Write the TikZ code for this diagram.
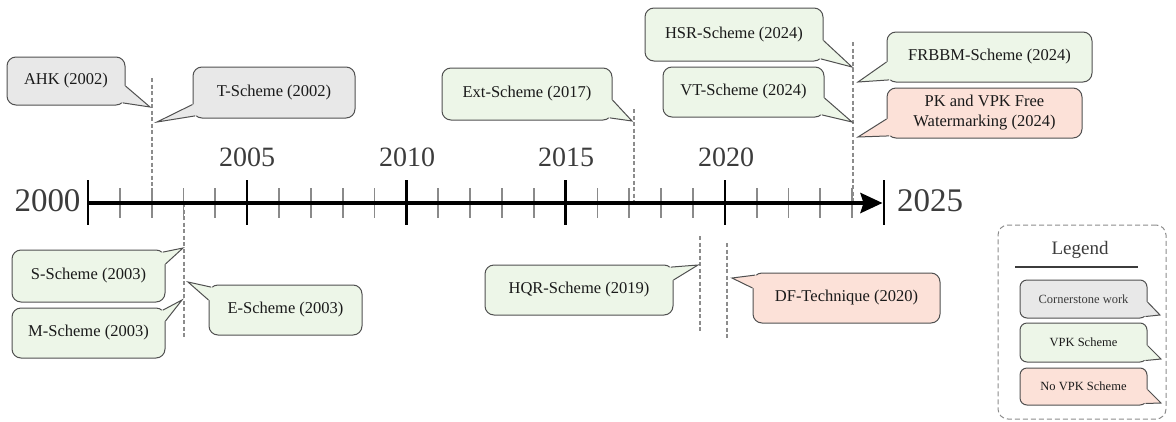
\documentclass[tikz,border=0pt]{standalone}
\usepackage{fontspec}
\setmainfont{Liberation Serif}
\usetikzlibrary{calc,arrows.meta}
\definecolor{boxc}{HTML}{505050}
\definecolor{grayfill}{HTML}{E8E8E8}
\definecolor{greenfill}{HTML}{EDF6E8}
\definecolor{pinkfill}{HTML}{FCE1D8}
\definecolor{txtc}{HTML}{1A1A1A}
\definecolor{yrc}{HTML}{3C3C3C}
\definecolor{dashc}{HTML}{8C8C8C}
\definecolor{tickc}{HTML}{8A8A8A}
\newcommand{\callfont}{\fontsize{16.5}{20}\selectfont}
\newcommand{\legfont}{\fontsize{12.5}{15}\selectfont}
\newcommand{\tailc}[5]{%
  \coordinate (#1-a) at #3;
  \coordinate (#1-b) at #5;
  \fill[#2] ($(#1-a)!2pt!(#1.center)$) -- (#1-a) -- (#4) -- (#1-b) -- ($(#1-b)!2pt!(#1.center)$) -- cycle;
  \draw[tailline] (#1-a) -- (#4) -- (#1-b);
}
\begin{document}
\begin{tikzpicture}[x=1pt,y=-1pt,
  callbox/.style={draw=boxc, line width=1pt, rounded corners=9pt, inner sep=0pt, align=center, font=\callfont, text=txtc},
  graybox/.style={callbox, fill=grayfill},
  greenbox/.style={callbox, fill=greenfill},
  pinkbox/.style={callbox, fill=pinkfill},
  legbox/.style={callbox, rounded corners=7pt, font=\legfont},
  tailline/.style={draw=boxc, line width=1pt, line join=miter},
  evline/.style={draw=dashc, line width=1.2pt, dash pattern=on 4pt off 2.5pt},
  majortick/.style={draw=black, line width=2.4pt},
  minortick/.style={draw=tickc, line width=1.8pt},
  yearlab/.style={font=\fontsize{28}{30}\selectfont, text=yrc, inner sep=0pt},
  endlab/.style={font=\fontsize{33}{35}\selectfont, text=yrc, inner sep=0pt}
]
\useasboundingbox (0,0) rectangle (1176,421);

% event lines
\coordinate (d02t) at (152,78);  \coordinate (d02b) at (152,201);
\coordinate (d03t) at (184,203); \coordinate (d03b) at (184,339);
\coordinate (d17t) at (634,109); \coordinate (d17b) at (634,203);
\coordinate (d19t) at (700,236); \coordinate (d19b) at (700,331);
\coordinate (d20t) at (727,243); \coordinate (d20b) at (727,339);
\coordinate (d24t) at (853,42);  \coordinate (d24b) at (853,203);
\foreach \p in {02,03,17,19,20,24}{\draw[evline] (d\p t) -- (d\p b);}

% axis
\coordinate (ax0) at (88,203);
\coordinate (ax25) at (884,203);
\foreach \k in {1,...,24}{
  \pgfmathtruncatemacro\r{mod(\k,5)}
  \ifnum\r>0 \draw[minortick] ($(ax0)!\k/25!(ax25)+(0,-15)$) -- ($(ax0)!\k/25!(ax25)+(0,15)$);\fi
}
\foreach \k in {0,5,...,25}{
  \draw[majortick] ($(ax0)!\k/25!(ax25)+(0,-23)$) -- ($(ax0)!\k/25!(ax25)+(0,22)$);
}
\draw[line width=4pt, -{Stealth[length=22pt,width=20pt,inset=3pt]}] (ax0) -- ($(ax25)+(-1.5,0)$);

% year labels
\node[endlab] (y2000) at (47.5,201) {2000};
\node[endlab] (y2025) at (930,201) {2025};
\node[yearlab] (y2005) at (247,157) {2005};
\node[yearlab] (y2010) at (407,157) {2010};
\node[yearlab] (y2015) at (566,157) {2015};
\node[yearlab] (y2020) at (726,157) {2020};

% tips
\coordinate (tahk) at (150,107);
\coordinate (tts)  at (157,122);
\coordinate (tss)  at (183,248);
\coordinate (tms)  at (182,300);
\coordinate (tes)  at (188,282);
\coordinate (text) at (632,121);
\coordinate (thsr) at (852,67);
\coordinate (tvt)  at (852,122);
\coordinate (tfr)  at (858,82);
\coordinate (tpk)  at (858,137);
\coordinate (thqr) at (698,265);
\coordinate (tdf)  at (732,278);

% callouts
\node[graybox, minimum width=118, minimum height=48] (ahk) at (66,81) {AHK (2002)};
\tailc{ahk}{grayfill}{($(ahk.east)+(0,5)$)}{tahk}{($(ahk.south east)+(-2.6,-2.6)$)}

\node[graybox, minimum width=162, minimum height=51] (ts) at (274,92.5) {T-Scheme (2002)};
\tailc{ts}{grayfill}{($(ts.west)+(0,12)$)}{tts}{($(ts.south west)+(2.6,-2.6)$)}

\node[greenbox, minimum width=153, minimum height=52] (ss) at (88.5,276) {S-Scheme (2003)};
\tailc{ss}{greenfill}{($(ss.north east)+(-2.6,2.6)$)}{tss}{($(ss.east)+(0,-12)$)}

\node[greenbox, minimum width=153, minimum height=50] (ms) at (88.5,333) {M-Scheme (2003)};
\tailc{ms}{greenfill}{($(ms.north east)+(-2.6,2.6)$)}{tms}{($(ms.east)+(0,-12)$)}

\node[greenbox, minimum width=153, minimum height=50] (es) at (285.5,310) {E-Scheme (2003)};
\tailc{es}{greenfill}{($(es.north west)+(2.6,2.6)$)}{tes}{($(es.west)+(0,-10)$)}

\node[greenbox, minimum width=170, minimum height=52] (ext) at (527,94) {Ext-Scheme (2017)};
\tailc{ext}{greenfill}{($(ext.east)+(0,6)$)}{text}{($(ext.south east)+(-2.6,-2.6)$)}

\node[greenbox, minimum width=178, minimum height=53] (hsr) at (734,34.5) {HSR-Scheme (2024)};
\tailc{hsr}{greenfill}{($(hsr.east)+(0,6)$)}{thsr}{($(hsr.south east)+(-2.6,-2.6)$)}

\node[greenbox, minimum width=161, minimum height=50] (vt) at (743.5,92) {VT-Scheme (2024)};
\tailc{vt}{greenfill}{($(vt.east)+(0,6)$)}{tvt}{($(vt.south east)+(-2.6,-2.6)$)}

\node[greenbox, minimum width=205, minimum height=50] (fr) at (989.5,57) {FRBBM-Scheme (2024)};
\tailc{fr}{greenfill}{($(fr.west)+(0,5)$)}{tfr}{($(fr.south west)+(2.6,-2.6)$)}

\node[pinkbox, minimum width=195, minimum height=50] (pk) at (984.5,113) {PK and VPK Free\\Watermarking (2024)};
\tailc{pk}{pinkfill}{($(pk.west)+(0,6)$)}{tpk}{($(pk.south west)+(2.6,-2.6)$)}

\node[greenbox, minimum width=188, minimum height=50] (hqr) at (579,290) {HQR-Scheme (2019)};
\tailc{hqr}{greenfill}{($(hqr.north east)+(-2.6,2.6)$)}{thqr}{($(hqr.east)+(0,-10)$)}

\node[pinkbox, minimum width=187, minimum height=50] (df) at (846.5,298) {DF-Technique (2020)};
\tailc{df}{pinkfill}{($(df.north west)+(2.6,2.6)$)}{tdf}{($(df.west)+(0,-10)$)}

% legend
\node[draw=dashc, line width=1pt, dash pattern=on 5pt off 3pt, rounded corners=10pt, minimum width=168, minimum height=194, inner sep=0pt] (legend) at (1082,322) {};
\node[font=\fontsize{19}{21}\selectfont, text=yrc, inner sep=0pt] (legtitle) at (1080,250) {Legend};
\coordinate (ul1) at (1015,267); \coordinate (ul2) at (1138,267);
\draw[line width=1.4pt, draw=yrc] (ul1) -- (ul2);

\coordinate (tcw) at (1160,315);
\coordinate (tvpk) at (1161,359);
\coordinate (tnvpk) at (1161,403);
\node[legbox, fill=grayfill, text=yrc, minimum width=127, minimum height=38] (cw) at (1083.5,299) {Cornerstone work};
\tailc{cw}{grayfill}{($(cw.east)+(0,3)$)}{tcw}{($(cw.south east)+(-2,-2)$)}
\node[legbox, fill=greenfill, minimum width=127, minimum height=39] (vpk) at (1083.5,342.5) {VPK Scheme};
\tailc{vpk}{greenfill}{($(vpk.east)+(0,3)$)}{tvpk}{($(vpk.south east)+(-2,-2)$)}
\node[legbox, fill=pinkfill, minimum width=127, minimum height=37] (nvpk) at (1083.5,386.5) {No VPK Scheme};
\tailc{nvpk}{pinkfill}{($(nvpk.east)+(0,3)$)}{tnvpk}{($(nvpk.south east)+(-2,-2)$)}
\end{tikzpicture}
\end{document}
